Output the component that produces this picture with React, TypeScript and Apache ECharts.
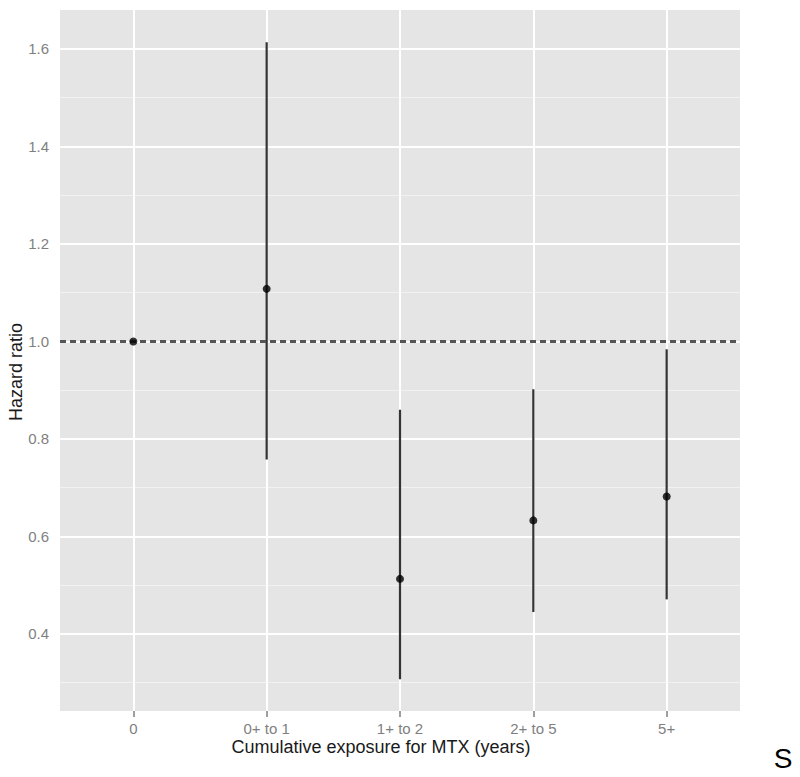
import React, { useEffect, useRef } from "react";
import * as echarts from "echarts";

const categories = ["0", "0+ to 1", "1+ to 2", "2+ to 5", "5+"];
const hazardRatio = [1.0, 1.108, 0.513, 0.633, 0.682];
const lowerCI: (number | null)[] = [null, 0.758, 0.307, 0.445, 0.471];
const upperCI: (number | null)[] = [null, 1.614, 0.86, 0.902, 0.984];
const yMajorTicks = [0.4, 0.6, 0.8, 1.0, 1.2, 1.4, 1.6];
const yMinorTicks = [0.3, 0.5, 0.7, 0.9, 1.1, 1.3, 1.5];
const referenceLine = 1.0;

const FONT = "'Liberation Sans', Arial, Helvetica, sans-serif";

export default function App() {
  const ref = useRef<HTMLDivElement>(null);
  useEffect(() => {
    if (!ref.current) return;
    const chart = echarts.init(ref.current, null, { renderer: "svg" });
    const xIdx = categories.map((_, i) => i);
    const gridLines: any[] = [
      ...yMinorTicks.map((v) => ({ yAxis: v, lineStyle: { color: "#f2f2f2", width: 1, type: "solid" } })),
      ...yMajorTicks.map((v) => ({ yAxis: v, lineStyle: { color: "#ffffff", width: 2, type: "solid" } })),
      ...xIdx.map((v) => ({ xAxis: v, lineStyle: { color: "#ffffff", width: 2, type: "solid" } })),
    ];
    const barData = categories
      .map((_, i) => [i, lowerCI[i], upperCI[i]])
      .filter((d) => d[1] != null && d[2] != null);
    chart.setOption({
      animation: false,
      backgroundColor: "#ffffff",
      textStyle: { fontFamily: FONT },
      grid: {
        left: 60,
        right: 60,
        top: 10,
        bottom: 66,
        show: true,
        backgroundColor: "#e5e5e5",
        borderWidth: 0,
      },
      xAxis: {
        type: "value",
        min: -0.55,
        max: 4.55,
        axisLine: { show: false },
        splitLine: { show: false },
        axisTick: {
          show: true,
          customValues: xIdx,
          length: 6,
          lineStyle: { color: "#7f7f7f", width: 1.5 },
        },
        axisLabel: {
          customValues: xIdx,
          formatter: (v: number) => categories[Math.round(v)] ?? "",
          color: "#7f7f7f",
          fontSize: 15,
          fontFamily: FONT,
          margin: 10,
        },
      },
      yAxis: {
        type: "value",
        min: 0.242,
        max: 1.68,
        axisLine: { show: false },
        splitLine: { show: false },
        axisTick: {
          show: true,
          customValues: yMajorTicks,
          length: 5,
          lineStyle: { color: "#7f7f7f", width: 1.5 },
        },
        axisLabel: {
          customValues: yMajorTicks,
          formatter: (v: number) => v.toFixed(1),
          color: "#7f7f7f",
          fontSize: 15,
          fontFamily: FONT,
          margin: 11,
        },
      },
      series: [
        {
          type: "line",
          data: [],
          z: 1,
          silent: true,
          markLine: {
            z: 1,
            silent: true,
            symbol: "none",
            label: { show: false },
            animation: false,
            data: gridLines,
          },
        },
        {
          type: "custom",
          z: 3,
          silent: true,
          data: barData,
          renderItem: (params: any, api: any) => {
            const x = api.value(0);
            const p1 = api.coord([x, api.value(1)]);
            const p2 = api.coord([x, api.value(2)]);
            return {
              type: "line",
              shape: { x1: p1[0], y1: p1[1], x2: p2[0], y2: p2[1] },
              style: { stroke: "#333333", lineWidth: 2.2 },
            };
          },
        },
        {
          type: "line",
          data: [],
          z: 4,
          silent: true,
          markLine: {
            z: 4,
            silent: true,
            symbol: "none",
            label: { show: false },
            animation: false,
            data: [
              {
                yAxis: referenceLine,
                lineStyle: { color: "#555555", width: 2.8, type: [6, 4] },
              },
            ],
          },
        },
        {
          type: "scatter",
          z: 6,
          silent: true,
          symbol: "circle",
          symbolSize: 8,
          itemStyle: { color: "#000000" },
          data: hazardRatio.map((v, i) => [i, v]),
        },
      ],
      graphic: [
        {
          type: "text",
          x: 381,
          y: 747,
          style: {
            text: "Cumulative exposure for MTX (years)",
            fontSize: 18,
            fontFamily: FONT,
            fill: "#1a1a1a",
            align: "center",
            verticalAlign: "middle",
          },
        },
        {
          type: "text",
          x: 16,
          y: 372,
          rotation: Math.PI / 2,
          style: {
            text: "Hazard ratio",
            fontSize: 18,
            fontFamily: FONT,
            fill: "#1a1a1a",
            align: "center",
            verticalAlign: "middle",
          },
        },
        {
          type: "text",
          x: 783,
          y: 758,
          style: {
            text: "S",
            fontSize: 28,
            fontFamily: FONT,
            fill: "#000000",
            align: "center",
            verticalAlign: "middle",
          },
        },
      ],
    });
    return () => chart.dispose();
  }, []);
  return (
    <div
      ref={ref}
      style={{ position: "absolute", left: 0, top: 0, width: 800, height: 777 }}
    />
  );
}
